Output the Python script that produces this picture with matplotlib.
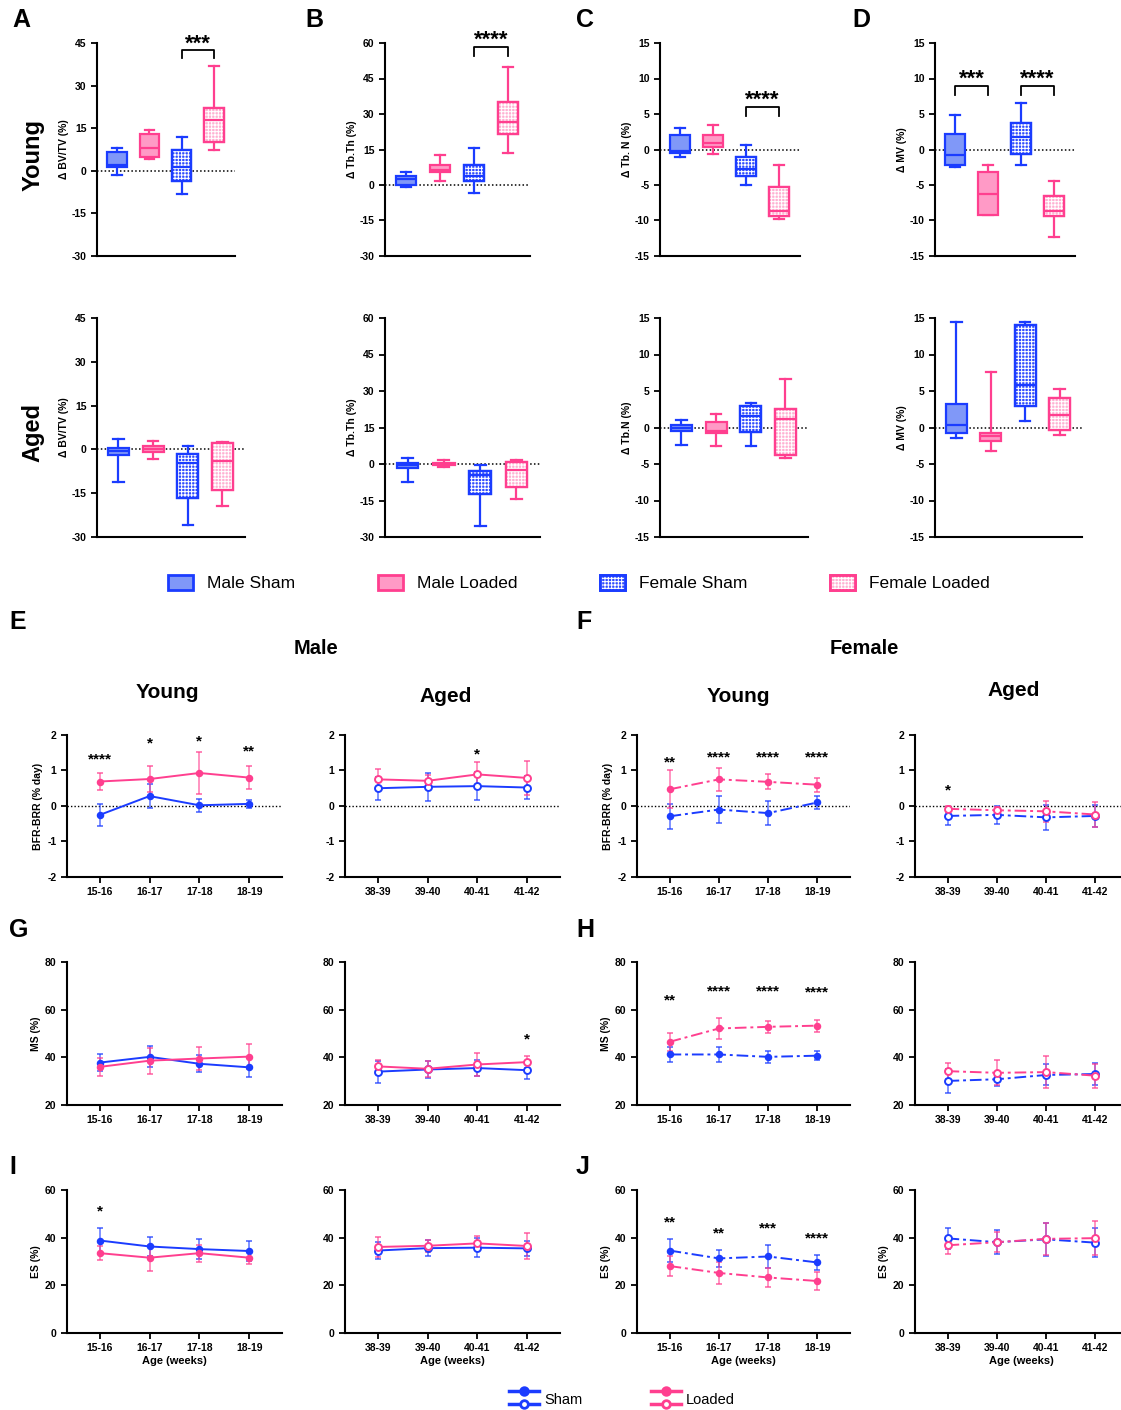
import matplotlib
matplotlib.use('Agg')
import matplotlib.pyplot as plt
from matplotlib.patches import PathPatch, Rectangle
from matplotlib.lines import Line2D
from matplotlib.legend_handler import HandlerBase
import numpy as np

plt.rcParams['font.family'] = ['Liberation Sans', 'DejaVu Sans']
plt.rcParams['hatch.linewidth'] = 0.75
plt.rcParams['axes.unicode_minus'] = False

W, H = 1121, 1410
fig = plt.figure(figsize=(W / 100, H / 100), dpi=100)

BLUE = '#1b3cff'
PINK = '#ff3f8f'
FILLS = ['#8098f8', '#ff9ac6', '#2f4cff', '#ffb0d2']
EDGES = [BLUE, PINK, BLUE, PINK]
HATCH = [None, None, '+++++', '+++++']
groups = ['Male Sham', 'Male Loaded', 'Female Sham', 'Female Loaded']

# ---------------- box data: [whisker low, Q1, median, Q3, whisker high] per group
young_bvtv = [[-1.5, 1.5, 2.0, 6.5, 8.0], [4.0, 5.0, 8.0, 13.0, 14.5],
              [-8.0, -3.5, 1.5, 7.5, 12.0], [7.5, 10.0, 18.0, 22.0, 37.0]]
young_tbth = [[-1.0, 0.0, 2.5, 4.0, 5.5], [1.5, 5.5, 6.5, 8.5, 12.5],
              [-3.5, 1.5, 4.0, 8.5, 15.5], [13.5, 21.5, 26.5, 35.0, 50.0]]
young_tbn = [[-1.0, -0.5, -0.2, 2.0, 3.0], [-0.6, 0.4, 0.9, 2.0, 3.4],
             [-5.0, -3.8, -2.7, -1.1, 0.7], [-9.8, -9.4, -8.6, -5.3, -2.2]]
young_mv = [[-2.5, -2.2, -0.8, 2.2, 4.8], [-9.2, -9.2, -6.3, -3.2, -2.2],
            [-2.2, -0.6, 1.7, 3.8, 6.5], [-12.3, -9.4, -8.6, -6.6, -4.4]]
aged_bvtv = [[-11.0, -2.0, -0.5, 0.5, 3.5], [-3.2, -1.0, 0.0, 1.0, 2.8],
             [-26.0, -16.5, -4.5, -1.5, 1.2], [-19.5, -14.0, -4.0, 2.2, 2.5]]
aged_tbth = [[-7.5, -1.5, -0.5, 0.5, 2.5], [-1.2, -0.5, 0.0, 0.3, 1.6],
             [-25.5, -12.3, -4.5, -2.8, -0.5], [-14.5, -9.5, -2.3, 1.0, 1.5]]
aged_tbn = [[-2.4, -0.5, 0.0, 0.4, 1.0], [-2.5, -0.8, -0.5, 0.8, 1.8],
            [-2.5, -0.6, 1.6, 3.0, 3.4], [-4.2, -3.8, 1.1, 2.6, 6.6]]
aged_mv = [[-1.4, -0.7, 0.4, 3.2, 14.5], [-3.2, -1.8, -1.2, -0.7, 7.6],
           [0.9, 3.0, 5.8, 14.0, 14.5], [-1.0, -0.4, 1.7, 4.0, 5.3]]

# significance brackets: (group a, group b, leg bottom, bar top, star baseline, stars)
sig_young_bvtv = [(2, 3, 39.7, 42.5, 42.6, '***')]
sig_young_tbth = [(2, 3, 54.5, 58.3, 58.9, '****')]
sig_young_tbn = [(2, 3, 4.7, 6.0, 6.15, '****')]
sig_young_mv = [(0, 1, 7.7, 8.95, 9.1, '***'), (2, 3, 7.7, 8.95, 9.1, '****')]

# ---------------- line data (mean, SD) ; x categories
young_weeks = ['15-16', '16-17', '17-18', '18-19']
aged_weeks = ['38-39', '39-40', '40-41', '41-42']

E_young_sham = [-0.25, 0.28, 0.02, 0.06]
E_young_sham_sd = [0.30, 0.34, 0.18, 0.12]
E_young_load = [0.69, 0.76, 0.93, 0.80]
E_young_load_sd = [0.25, 0.37, 0.60, 0.33]
E_young_sig = [(0, 1.19, '****'), (1, 1.64, '*'), (2, 1.70, '*'), (3, 1.42, '**')]
E_aged_sham = [0.50, 0.54, 0.56, 0.52]
E_aged_sham_sd = [0.33, 0.40, 0.39, 0.33]
E_aged_load = [0.75, 0.71, 0.89, 0.79]
E_aged_load_sd = [0.30, 0.16, 0.35, 0.49]
E_aged_sig = [(2, 1.33, '*')]

F_young_sham = [-0.29, -0.10, -0.20, 0.10]
F_young_sham_sd = [0.36, 0.38, 0.33, 0.18]
F_young_load = [0.47, 0.75, 0.68, 0.60]
F_young_load_sd = [0.53, 0.33, 0.21, 0.20]
F_young_sig = [(0, 1.11, '**'), (1, 1.25, '****'), (2, 1.25, '****'), (3, 1.25, '****')]
F_aged_sham = [-0.28, -0.25, -0.32, -0.28]
F_aged_sham_sd = [0.25, 0.26, 0.36, 0.32]
F_aged_load = [-0.08, -0.12, -0.15, -0.24]
F_aged_load_sd = [0.08, 0.09, 0.30, 0.36]
F_aged_sig = [(0, 0.32, '*')]

G_young_sham = [37.8, 40.2, 37.3, 35.8]
G_young_sham_sd = [3.7, 4.4, 3.5, 4.2]
G_young_load = [36.0, 38.6, 39.5, 40.3]
G_young_load_sd = [3.8, 5.5, 5.0, 5.1]
G_young_sig = []
G_aged_sham = [34.0, 34.9, 35.5, 34.6]
G_aged_sham_sd = [4.6, 3.4, 3.4, 3.6]
G_aged_load = [36.2, 35.2, 37.0, 38.0]
G_aged_load_sd = [2.5, 3.4, 4.8, 2.6]
G_aged_sig = [(3, 45.9, '*')]

H_young_sham = [41.2, 41.2, 40.2, 40.7]
H_young_sham_sd = [3.0, 3.3, 2.4, 2.0]
H_young_load = [46.5, 52.1, 52.8, 53.3]
H_young_load_sd = [3.9, 4.3, 2.5, 2.5]
H_young_sig = [(0, 62.2, '**'), (1, 66.0, '****'), (2, 66.0, '****'), (3, 65.6, '****')]
H_aged_sham = [30.1, 30.8, 32.6, 33.0]
H_aged_sham_sd = [5.1, 3.0, 4.4, 4.5]
H_aged_load = [34.2, 33.5, 33.8, 32.3]
H_aged_load_sd = [3.4, 5.3, 6.8, 5.1]
H_aged_sig = []

I_young_sham = [38.8, 36.3, 35.2, 34.4]
I_young_sham_sd = [5.3, 3.8, 4.1, 4.2]
I_young_load = [33.5, 31.6, 33.5, 31.6]
I_young_load_sd = [2.9, 5.5, 3.5, 2.7]
I_young_sig = [(0, 49.3, '*')]
I_aged_sham = [34.6, 35.6, 35.8, 35.5]
I_aged_sham_sd = [3.6, 3.4, 4.1, 3.3]
I_aged_load = [36.1, 36.6, 37.6, 36.5]
I_aged_load_sd = [4.1, 2.6, 2.9, 5.5]
I_aged_sig = []

J_young_sham = [34.6, 31.3, 32.1, 29.6]
J_young_sham_sd = [5.0, 3.7, 5.0, 3.2]
J_young_load = [28.1, 25.2, 23.3, 21.8]
J_young_load_sd = [4.3, 4.8, 4.0, 3.6]
J_young_sig = [(0, 44.7, '**'), (1, 40.1, '**'), (2, 42.2, '***'), (3, 38.0, '****')]
J_aged_sham = [39.7, 38.1, 39.3, 37.9]
J_aged_sham_sd = [4.5, 5.1, 6.8, 6.1]
J_aged_load = [36.8, 38.1, 39.5, 39.8]
J_aged_load_sd = [3.6, 4.1, 6.7, 7.2]
J_aged_sig = []


def add_ax(l, t, r, b):
    return fig.add_axes([l / W, 1 - b / H, (r - l) / W, (b - t) / H])


def style_axis(ax):
    for s in ['top', 'right']:
        ax.spines[s].set_visible(False)
    for s in ['left', 'bottom']:
        ax.spines[s].set_linewidth(1.5)
    ax.tick_params(axis='both', width=1.3, length=4, labelsize=7.5)
    for lab in ax.get_yticklabels() + ax.get_xticklabels():
        lab.set_fontweight('bold')


def draw_box(ax, stats, ylim, yticks, ylabel, sigs=()):
    for i, s in enumerate(stats):
        st = dict(whislo=s[0], q1=s[1], med=s[2], q3=s[3], whishi=s[4], label='')
        ec = EDGES[i]
        r = ax.bxp([st], positions=[i], widths=0.6, patch_artist=True, showfliers=False,
                   manage_ticks=False,
                   boxprops=dict(facecolor=FILLS[i], edgecolor=ec, linewidth=1.6),
                   whiskerprops=dict(color=ec, linewidth=1.6),
                   capprops=dict(color=ec, linewidth=1.6),
                   medianprops=dict(color=ec, linewidth=1.6, zorder=6))
        box = r['boxes'][0]
        box.set_zorder(3)
        if HATCH[i]:
            hp = PathPatch(box.get_path(), facecolor='none', edgecolor='white',
                           hatch=HATCH[i], linewidth=0, zorder=4)
            ax.add_patch(hp)
            op = PathPatch(box.get_path(), facecolor='none', edgecolor=ec,
                           linewidth=1.6, zorder=5)
            ax.add_patch(op)
    ax.axhline(0, color='k', ls=(0, (1, 1.5)), lw=1.1, zorder=1)
    ax.set_xlim(-0.62, 3.65)
    ax.set_ylim(*ylim)
    ax.set_yticks(yticks)
    ax.set_xticks([])
    ax.set_ylabel(ylabel, fontsize=7.5, fontweight='bold', labelpad=2)
    style_axis(ax)
    for a, b, lo, hi, ys, txt in sigs:
        ax.plot([a, a, b, b], [lo, hi, hi, lo], color='k', lw=1.3, clip_on=False)
        ax.text((a + b) / 2, ys, txt, ha='center', va='baseline', fontsize=16,
                fontweight='bold', clip_on=False)


def draw_line(ax, sham, sham_sd, load, load_sd, labels, ylim, yticks, ylabel,
              female, aged, sigs, xlabel=None):
    x = np.arange(len(labels))
    ls = (0, (6, 2, 1.5, 2)) if female else '-'
    for m, sd, c in [(sham, sham_sd, BLUE), (load, load_sd, PINK)]:
        mfc = 'white' if aged else c
        ms = 5 if aged else 4
        eb = ax.errorbar(x, m, yerr=sd, color=c, ls=ls, lw=1.4, marker='o', ms=ms,
                         mfc=mfc, mec=c, mew=1.4, ecolor=c, elinewidth=1.2,
                         capsize=2.5, capthick=1.2, clip_on=False)
        for art in eb[1] + eb[2]:
            art.set_alpha(0.65)
    ax.axhline(0, color='k', ls=(0, (1, 1.5)), lw=1.0, zorder=0)
    ax.set_xlim(-0.66, 3.66)
    ax.set_ylim(*ylim)
    ax.set_yticks(yticks)
    ax.set_xticks(x)
    ax.set_xticklabels(labels)
    if ylabel:
        ax.set_ylabel(ylabel, fontsize=7.5, fontweight='bold', labelpad=3)
    if xlabel:
        ax.set_xlabel(xlabel, fontsize=8, fontweight='bold', labelpad=2)
    style_axis(ax)
    for xi, y, txt in sigs:
        ax.text(xi, y, txt, ha='center', va='baseline', fontsize=11, fontweight='bold')


# ---------------- box panels
top_row = (43, 256)
bot_row = (318, 537)
top_cols = [(97, 235), (385, 530), (660, 800), (935, 1075)]
bot_cols = [(97, 245), (385, 540), (660, 808), (935, 1082)]

ylims = [(-30, 45), (-30, 60), (-15, 15), (-15, 15)]
yticks_l = [np.arange(-30, 46, 15), np.arange(-30, 61, 15), np.arange(-15, 16, 5), np.arange(-15, 16, 5)]
young_sets = [young_bvtv, young_tbth, young_tbn, young_mv]
aged_sets = [aged_bvtv, aged_tbth, aged_tbn, aged_mv]
young_labels = ['Δ BV/TV (%)', 'Δ Tb.Th (%)', 'Δ Tb. N (%)', 'Δ MV (%)']
aged_labels = ['Δ BV/TV (%)', 'Δ Tb.Th (%)', 'Δ Tb.N (%)', 'Δ MV (%)']
young_sigs = [sig_young_bvtv, sig_young_tbth, sig_young_tbn, sig_young_mv]

for k in range(4):
    ax = add_ax(top_cols[k][0], top_row[0], top_cols[k][1], top_row[1])
    draw_box(ax, young_sets[k], ylims[k], yticks_l[k], young_labels[k], young_sigs[k])
    ax = add_ax(bot_cols[k][0], bot_row[0], bot_cols[k][1], bot_row[1])
    draw_box(ax, aged_sets[k], ylims[k], yticks_l[k], aged_labels[k])


# legend for boxes
class BoxHandler(HandlerBase):
    def __init__(self, idx):
        super().__init__()
        self.idx = idx

    def create_artists(self, legend, orig, xd, yd, w, h, fs, trans):
        i = self.idx
        arts = [Rectangle((-xd, -yd), w, h, facecolor=FILLS[i], edgecolor=EDGES[i],
                          lw=2, transform=trans)]
        if HATCH[i]:
            arts.append(Rectangle((-xd, -yd), w, h, facecolor='none', edgecolor='white',
                                  hatch=HATCH[i], lw=0, transform=trans))
            arts.append(Rectangle((-xd, -yd), w, h, facecolor='none', edgecolor=EDGES[i],
                                  lw=2, transform=trans))
        return arts


handles = [Rectangle((0, 0), 1, 1) for _ in groups]
fig.legend(handles, groups, handler_map={h: BoxHandler(i) for i, h in enumerate(handles)},
           loc='center left', bbox_to_anchor=(168 / W, 1 - 583 / H), ncol=4, frameon=False,
           fontsize=12.5, handlelength=1.45, handleheight=0.95, handletextpad=0.8,
           columnspacing=4.75, borderpad=0, borderaxespad=0)

# ---------------- line panels
rows = [(735, 877), (962, 1105), (1190, 1333)]
cols = [(67, 282), (345, 560), (637, 850), (915, 1128)]
bfr_ticks = [-2, -1, 0, 1, 2]
ms_ticks = [20, 40, 60, 80]
es_ticks = [0, 20, 40, 60]

panels = [
    (0, 0, E_young_sham, E_young_sham_sd, E_young_load, E_young_load_sd, young_weeks, (-2, 2), bfr_ticks, 'BFR-BRR (% day)', False, False, E_young_sig, None),
    (0, 1, E_aged_sham, E_aged_sham_sd, E_aged_load, E_aged_load_sd, aged_weeks, (-2, 2), bfr_ticks, None, False, True, E_aged_sig, None),
    (0, 2, F_young_sham, F_young_sham_sd, F_young_load, F_young_load_sd, young_weeks, (-2, 2), bfr_ticks, 'BFR-BRR (% day)', True, False, F_young_sig, None),
    (0, 3, F_aged_sham, F_aged_sham_sd, F_aged_load, F_aged_load_sd, aged_weeks, (-2, 2), bfr_ticks, None, True, True, F_aged_sig, None),
    (1, 0, G_young_sham, G_young_sham_sd, G_young_load, G_young_load_sd, young_weeks, (20, 80), ms_ticks, 'MS (%)', False, False, G_young_sig, None),
    (1, 1, G_aged_sham, G_aged_sham_sd, G_aged_load, G_aged_load_sd, aged_weeks, (20, 80), ms_ticks, None, False, True, G_aged_sig, None),
    (1, 2, H_young_sham, H_young_sham_sd, H_young_load, H_young_load_sd, young_weeks, (20, 80), ms_ticks, 'MS (%)', True, False, H_young_sig, None),
    (1, 3, H_aged_sham, H_aged_sham_sd, H_aged_load, H_aged_load_sd, aged_weeks, (20, 80), ms_ticks, None, True, True, H_aged_sig, None),
    (2, 0, I_young_sham, I_young_sham_sd, I_young_load, I_young_load_sd, young_weeks, (0, 60), es_ticks, 'ES (%)', False, False, I_young_sig, 'Age (weeks)'),
    (2, 1, I_aged_sham, I_aged_sham_sd, I_aged_load, I_aged_load_sd, aged_weeks, (0, 60), es_ticks, None, False, True, I_aged_sig, 'Age (weeks)'),
    (2, 2, J_young_sham, J_young_sham_sd, J_young_load, J_young_load_sd, young_weeks, (0, 60), es_ticks, 'ES (%)', True, False, J_young_sig, 'Age (weeks)'),
    (2, 3, J_aged_sham, J_aged_sham_sd, J_aged_load, J_aged_load_sd, aged_weeks, (0, 60), es_ticks, 'ES (%)', True, True, J_aged_sig, 'Age (weeks)'),
]
for (r, c, s, ssd, l, lsd, labs, yl, yt, ylab, fem, aged, sig, xlab) in panels:
    ax = add_ax(cols[c][0], rows[r][0], cols[c][1], rows[r][1])
    draw_line(ax, s, ssd, l, lsd, labs, yl, yt, ylab, fem, aged, sig, xlab)


# bottom legend (stacked young / aged handles)
class StackHandler(HandlerBase):
    def __init__(self, color):
        super().__init__()
        self.color = color

    def create_artists(self, legend, orig, xd, yd, w, h, fs, trans):
        arts = []
        for dy, mfc in [(h / 2 + 6.0, self.color), (h / 2 - 4.0, 'white')]:
            arts.append(Line2D([-xd, w - xd], [dy, dy], color=self.color, lw=2.5, transform=trans))
            arts.append(Line2D([w / 2 - xd], [dy], marker='o', ms=5.5, mfc=mfc, mec=self.color,
                               mew=2, ls='none', transform=trans))
        return arts


lh = [Line2D([], [], color=BLUE), Line2D([], [], color=PINK)]
fig.legend(lh, ['Sham', 'Loaded'],
           handler_map={lh[0]: StackHandler(BLUE), lh[1]: StackHandler(PINK)},
           loc='center left', bbox_to_anchor=(509 / W, 1 - 1400 / H), ncol=2, frameon=False,
           fontsize=10.5, handlelength=2.05, handletextpad=0.35, columnspacing=4.7,
           borderpad=0, borderaxespad=0)

# ---------------- texts
letters = [('A', 12, 8), ('B', 305, 8), ('C', 576, 8), ('D', 852, 8), ('E', 9, 610),
           ('F', 576, 610), ('G', 9, 918), ('H', 576, 918), ('I', 9, 1155), ('J', 576, 1155)]
for t, x, y in letters:
    fig.text(x / W, 1 - y / H, t, fontsize=18, fontweight='bold', ha='left', va='top')

fig.text(33 / W, 1 - 155 / H, 'Young', rotation=90, fontsize=17, fontweight='bold', ha='center', va='center')
fig.text(33 / W, 1 - 432 / H, 'Aged', rotation=90, fontsize=17, fontweight='bold', ha='center', va='center')
fig.text(316 / W, 1 - 649 / H, 'Male', fontsize=14.5, fontweight='bold', ha='center', va='center')
fig.text(864 / W, 1 - 649 / H, 'Female', fontsize=14.5, fontweight='bold', ha='center', va='center')
for t, x, y in [('Young', 167, 693), ('Aged', 446, 696), ('Young', 738, 696), ('Aged', 1014, 691)]:
    fig.text(x / W, 1 - y / H, t, fontsize=15, fontweight='bold', ha='center', va='center')

fig.savefig('out.png', dpi=100)
